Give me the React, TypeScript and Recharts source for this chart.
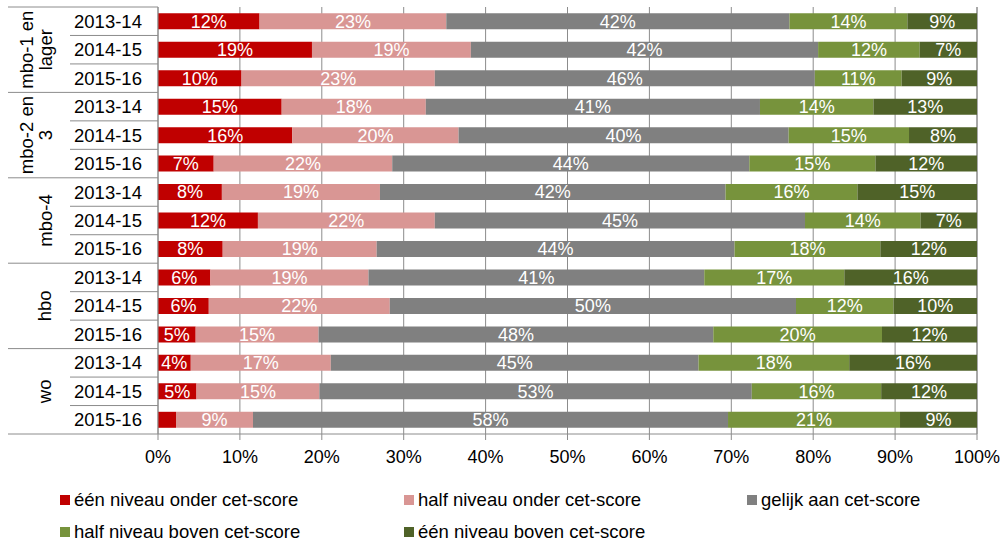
import { BarChart, Bar, XAxis, YAxis, CartesianGrid, LabelList } from "recharts";

const FONT = '"Liberation Sans", Arial, sans-serif';

const groups = [["mbo-1 en", "lager"], ["mbo-2 en", "3"], ["mbo-4"], ["hbo"], ["wo"]];
const years = [
  "2013-14", "2014-15", "2015-16",
  "2013-14", "2014-15", "2015-16",
  "2013-14", "2014-15", "2015-16",
  "2013-14", "2014-15", "2015-16",
  "2013-14", "2014-15", "2015-16",
];

// segment widths (%)
const eenOnder = [12.4, 18.8, 10.2, 15.1, 16.4, 6.8, 7.8, 12.2, 7.9, 6.4, 6.2, 4.6, 4.0, 4.7, 2.2];
const halfOnder = [22.8, 19.4, 23.6, 17.6, 20.3, 21.8, 19.3, 21.6, 18.8, 19.3, 22.1, 15.0, 17.1, 15.0, 9.4];
const gelijk = [41.9, 42.4, 46.4, 40.8, 40.3, 43.6, 42.2, 45.2, 43.7, 41.0, 49.6, 48.2, 44.9, 52.8, 58.0];
const halfBoven = [14.4, 12.4, 10.6, 13.85, 14.7, 15.4, 16.1, 14.1, 17.8, 17.1, 11.9, 20.6, 18.4, 15.8, 21.0];
const eenBoven = [8.5, 7.0, 9.2, 12.65, 8.3, 12.4, 14.6, 6.9, 11.8, 16.2, 10.2, 11.6, 15.6, 11.7, 9.4];

// labels as printed on the bars
const lblEenOnder = [12, 19, 10, 15, 16, 7, 8, 12, 8, 6, 6, 5, 4, 5, null];
const lblHalfOnder = [23, 19, 23, 18, 20, 22, 19, 22, 19, 19, 22, 15, 17, 15, 9];
const lblGelijk = [42, 42, 46, 41, 40, 44, 42, 45, 44, 41, 50, 48, 45, 53, 58];
const lblHalfBoven = [14, 12, 11, 14, 15, 15, 16, 14, 18, 17, 12, 20, 18, 16, 21];
const lblEenBoven = [9, 7, 9, 13, 8, 12, 15, 7, 12, 16, 10, 12, 16, 12, 9];

const xTicks = [0, 10, 20, 30, 40, 50, 60, 70, 80, 90, 100];

const series = [
  { key: "eenOnder", name: "één niveau onder cet-score", color: "#C00000" },
  { key: "halfOnder", name: "half niveau onder cet-score", color: "#D99694" },
  { key: "gelijk", name: "gelijk aan cet-score", color: "#808080" },
  { key: "halfBoven", name: "half niveau boven cet-score", color: "#77933C" },
  { key: "eenBoven", name: "één niveau boven cet-score", color: "#4F6228" },
];

const data = years.map((year, i) => ({
  year,
  eenOnder: eenOnder[i],
  halfOnder: halfOnder[i],
  gelijk: gelijk[i],
  halfBoven: halfBoven[i],
  eenBoven: eenBoven[i],
  l_eenOnder: lblEenOnder[i],
  l_halfOnder: lblHalfOnder[i],
  l_gelijk: lblGelijk[i],
  l_halfBoven: lblHalfBoven[i],
  l_eenBoven: lblEenBoven[i],
}));

const TOP = 7;
const PLOT_BOTTOM = 434;
const AXIS_X = 158;
const ROW_H = (PLOT_BOTTOM - TOP) / years.length;
const LINE = "#8c8c8c";

const YearTick = ({ y, payload, index }: any) => {
  const g = Math.floor(index / 3);
  const last = index % 3 === 2;
  const lines = groups[g];
  return (
    <g>
      {index === 0 && <line x1={8} x2={AXIS_X} y1={y - ROW_H / 2} y2={y - ROW_H / 2} stroke={LINE} />}
      <line x1={last ? 8 : 70} x2={AXIS_X} y1={y + ROW_H / 2} y2={y + ROW_H / 2} stroke={LINE} />
      <text x={108} y={y} textAnchor="middle" dominantBaseline="central" fontSize={18.5} fontFamily={FONT} fill="#000">
        {payload.value}
      </text>
      {index % 3 === 1 &&
        lines.map((t, k) => {
          const cx = lines.length === 2 ? 27 + k * 18.5 : 45;
          return (
            <text
              key={k}
              x={cx}
              y={y}
              transform={`rotate(-90 ${cx} ${y})`}
              textAnchor="middle"
              dominantBaseline="central"
              fontSize={18.5}
              fontFamily={FONT}
              fill="#000"
            >
              {t}
            </text>
          );
        })}
    </g>
  );
};

const legendCols = [60, 404, 747];
const legendRows = [500, 532];

export default function App() {
  return (
    <div style={{ position: "absolute", left: 0, top: 0, width: 1001, height: 544, background: "#fff" }}>
      <BarChart
        width={1001}
        height={470}
        data={data}
        layout="vertical"
        margin={{ top: TOP, right: 24, left: 0, bottom: 0 }}
        barCategoryGap="22%"
      >
        <CartesianGrid horizontal={false} stroke={LINE} strokeWidth={1} />
        <XAxis
          type="number"
          domain={[0, 100]}
          ticks={xTicks}
          tickFormatter={(v: number) => `${v}%`}
          height={36}
          tickSize={6}
          tickMargin={10}
          stroke={LINE}
          tick={{ fontSize: 18, fontFamily: FONT, fill: "#000" }}
          interval={0}
        />
        <YAxis
          type="category"
          dataKey="year"
          width={AXIS_X}
          tickLine={false}
          stroke={LINE}
          interval={0}
          tick={<YearTick />}
        />
        {series.map((s) => (
          <Bar key={s.key} dataKey={s.key} stackId="a" fill={s.color} isAnimationActive={false}>
            <LabelList
              dataKey={`l_${s.key}`}
              position="center"
              formatter={(v: any) => (v == null ? "" : `${v}%`)}
              fill="#fff"
              fontSize={18}
              fontFamily={FONT}
            />
          </Bar>
        ))}
      </BarChart>
      {series.map((s, i) => (
        <div
          key={s.key}
          style={{
            position: "absolute",
            left: legendCols[i % 3],
            top: legendRows[Math.floor(i / 3)] - 11,
            height: 22,
            display: "flex",
            alignItems: "center",
            fontFamily: FONT,
            fontSize: 18.5,
            color: "#000",
            whiteSpace: "nowrap",
          }}
        >
          <span style={{ display: "inline-block", width: 10, height: 10, background: s.color, marginRight: 4 }} />
          {s.name}
        </div>
      ))}
    </div>
  );
}
